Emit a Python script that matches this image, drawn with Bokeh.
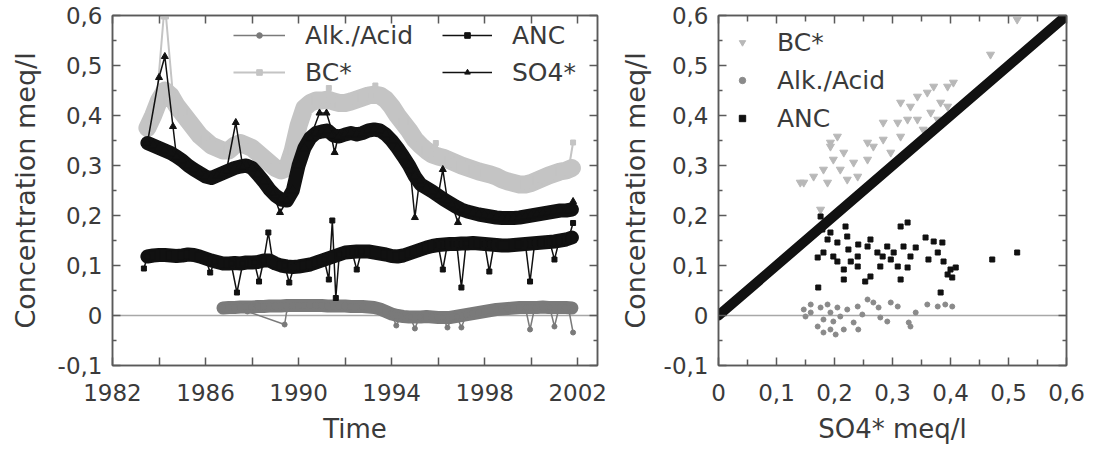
from bokeh.plotting import figure
from bokeh.models import (Range1d, LinearAxis, FixedTicker, CustomJSTickFormatter,
                          Legend, LegendItem, Span)
from bokeh.layouts import row
from bokeh.embed import file_html
from bokeh.resources import INLINE

# ---------------- data: left panel (time series) ----------------
t = [1983.50, 1983.75, 1984.00, 1984.25, 1984.50, 1984.75, 1985.00, 1985.25, 1985.50, 1985.75,
     1986.00, 1986.25, 1986.50, 1986.75, 1987.00, 1987.25, 1987.50, 1987.75, 1988.00, 1988.25,
     1988.50, 1988.75, 1989.00, 1989.25, 1989.50, 1989.75, 1990.00, 1990.25, 1990.50, 1990.75,
     1991.00, 1991.25, 1991.50, 1991.75, 1992.00, 1992.25, 1992.50, 1992.75, 1993.00, 1993.25,
     1993.50, 1993.75, 1994.00, 1994.25, 1994.50, 1994.75, 1995.00, 1995.25, 1995.50, 1995.75,
     1996.00, 1996.25, 1996.50, 1996.75, 1997.00, 1997.25, 1997.50, 1997.75, 1998.00, 1998.25,
     1998.50, 1998.75, 1999.00, 1999.25, 1999.50, 1999.75, 2000.00, 2000.25, 2000.50, 2000.75,
     2001.00, 2001.25, 2001.50, 2001.75]

so4 = [0.345, 0.340, 0.335, 0.330, 0.325, 0.318, 0.310, 0.300, 0.292, 0.285,
       0.278, 0.275, 0.280, 0.285, 0.290, 0.295, 0.298, 0.300, 0.295, 0.282,
       0.268, 0.252, 0.240, 0.232, 0.230, 0.250, 0.300, 0.335, 0.355, 0.365,
       0.368, 0.370, 0.360, 0.358, 0.362, 0.365, 0.362, 0.365, 0.370, 0.372,
       0.370, 0.362, 0.350, 0.335, 0.318, 0.300, 0.278, 0.262, 0.255, 0.248,
       0.240, 0.232, 0.225, 0.218, 0.212, 0.208, 0.205, 0.202, 0.200, 0.198,
       0.196, 0.195, 0.195, 0.195, 0.196, 0.198, 0.200, 0.202, 0.204, 0.206,
       0.208, 0.210, 0.210, 0.212]

anc = [0.118, 0.120, 0.121, 0.121, 0.120, 0.119, 0.120, 0.122, 0.121, 0.118,
       0.114, 0.110, 0.107, 0.104, 0.104, 0.105, 0.104, 0.106, 0.106, 0.107,
       0.110, 0.110, 0.104, 0.100, 0.098, 0.097, 0.098, 0.100, 0.102, 0.106,
       0.110, 0.114, 0.118, 0.122, 0.126, 0.127, 0.128, 0.128, 0.128, 0.126,
       0.124, 0.122, 0.119, 0.118, 0.120, 0.124, 0.128, 0.132, 0.136, 0.139,
       0.141, 0.142, 0.143, 0.143, 0.144, 0.144, 0.145, 0.144, 0.143, 0.142,
       0.141, 0.140, 0.140, 0.141, 0.142, 0.143, 0.144, 0.145, 0.146, 0.147,
       0.148, 0.150, 0.152, 0.156]

bc = [0.375, 0.400, 0.430, 0.450, 0.440, 0.420, 0.405, 0.390, 0.375, 0.360,
      0.350, 0.340, 0.335, 0.330, 0.330, 0.340, 0.345, 0.340, 0.335, 0.325,
      0.315, 0.305, 0.295, 0.290, 0.295, 0.330, 0.380, 0.415, 0.425, 0.430,
      0.430, 0.432, 0.428, 0.425, 0.425, 0.428, 0.432, 0.436, 0.440, 0.442,
      0.440, 0.432, 0.418, 0.400, 0.385, 0.370, 0.352, 0.340, 0.330, 0.322,
      0.318, 0.315, 0.310, 0.305, 0.300, 0.296, 0.292, 0.288, 0.285, 0.282,
      0.278, 0.272, 0.268, 0.265, 0.262, 0.262, 0.265, 0.270, 0.275, 0.280,
      0.284, 0.288, 0.290, 0.295]

alk_t = [1986.75, 1987.00, 1987.25, 1987.50, 1987.75, 1988.00, 1988.25, 1988.50, 1988.75, 1989.00,
         1989.25, 1989.50, 1989.75, 1990.00, 1990.25, 1990.50, 1990.75, 1991.00, 1991.25, 1991.50,
         1991.75, 1992.00, 1992.25, 1992.50, 1992.75, 1993.00, 1993.25, 1993.50, 1993.75, 1994.00,
         1994.25, 1994.50, 1994.75, 1995.00, 1995.25, 1995.50, 1995.75, 1996.00, 1996.25, 1996.50,
         1996.75, 1997.00, 1997.25, 1997.50, 1997.75, 1998.00, 1998.25, 1998.50, 1998.75, 1999.00,
         1999.25, 1999.50, 1999.75, 2000.00, 2000.25, 2000.50, 2000.75, 2001.00, 2001.25, 2001.50,
         2001.75]
alk = [0.015, 0.016, 0.016, 0.017, 0.017, 0.017, 0.018, 0.018, 0.019, 0.019,
       0.019, 0.020, 0.020, 0.020, 0.020, 0.020, 0.020, 0.020, 0.019, 0.019,
       0.019, 0.019, 0.018, 0.018, 0.018, 0.017, 0.016, 0.013, 0.008, 0.003,
       0.000, -0.002, -0.003, -0.003, -0.003, -0.002, -0.003, -0.004, -0.004, -0.004,
       -0.002, 0.000, 0.002, 0.004, 0.006, 0.008, 0.010, 0.012, 0.013, 0.014,
       0.015, 0.016, 0.016, 0.016, 0.016, 0.017, 0.016, 0.016, 0.016, 0.016,
       0.015]

# isolated excursions (spikes) of each series
so4_spk_t = [[1983.5, 1984.0, 1984.25, 1984.6, 1984.75], [1986.9, 1987.3, 1987.6],
             [1988.9, 1989.2, 1989.5], [1990.5, 1990.9, 1991.2, 1991.5], [1991.4, 1991.55, 1991.7],
             [1994.8, 1995.0, 1995.2], [1996.0, 1996.2, 1996.4], [1996.6, 1996.85, 1997.0],
             [2001.6, 2001.8]]
so4_spk_v = [[0.345, 0.476, 0.518, 0.378, 0.318], [0.290, 0.386, 0.298],
             [0.245, 0.206, 0.230], [0.355, 0.405, 0.405, 0.360], [0.360, 0.326, 0.358],
             [0.290, 0.196, 0.270], [0.240, 0.292, 0.230], [0.222, 0.186, 0.212],
             [0.210, 0.228]]

anc_spk_t = [[1983.35, 1983.5], [1986.0, 1986.2, 1986.4], [1987.1, 1987.35, 1987.6],
             [1988.1, 1988.3, 1988.5], [1988.5, 1988.7, 1988.9], [1989.4, 1989.6, 1989.8],
             [1991.1, 1991.3, 1991.45, 1991.6, 1991.75], [1992.3, 1992.5, 1992.7],
             [1996.0, 1996.2, 1996.4], [1996.8, 1997.0, 1997.2], [1998.0, 1998.2, 1998.4],
             [1999.75, 1999.95, 2000.15], [2000.8, 2001.0, 2001.2], [2001.6, 2001.8]]
anc_spk_v = [[0.094, 0.118], [0.114, 0.086, 0.108], [0.104, 0.046, 0.104],
             [0.106, 0.068, 0.110], [0.110, 0.166, 0.105], [0.100, 0.066, 0.097],
             [0.112, 0.072, 0.190, 0.035, 0.122], [0.127, 0.092, 0.128],
             [0.141, 0.092, 0.143], [0.143, 0.056, 0.144], [0.143, 0.088, 0.141],
             [0.143, 0.068, 0.145], [0.147, 0.112, 0.149], [0.153, 0.185]]

bc_spk_t = [[1983.9, 1984.2, 1984.3, 1984.6], [1991.1, 1991.3, 1991.5],
            [1993.1, 1993.3, 1993.5], [1995.7, 1995.9, 1996.1], [2001.6, 2001.8]]
bc_spk_v = [[0.430, 0.598, 0.598, 0.440], [0.430, 0.455, 0.430],
            [0.440, 0.460, 0.440], [0.322, 0.345, 0.318], [0.290, 0.346]]

alk_spk_t = [[1987.8, 1989.4, 1989.5], [1994.0, 1994.2, 1994.4], [1994.8, 1995.0, 1995.2],
             [1996.2, 1996.4, 1996.6], [1996.8, 1997.0, 1997.2], [1999.75, 1999.95, 2000.15],
             [2000.8, 2001.0, 2001.2], [2001.6, 2001.8]]
alk_spk_v = [[0.008, -0.018, 0.012], [0.003, -0.020, -0.002], [-0.003, -0.026, -0.003],
             [-0.004, -0.024, -0.004], [-0.002, -0.024, 0.001], [0.016, -0.028, 0.016],
             [0.016, -0.022, 0.016], [0.016, -0.034]]

# ---------------- data: right panel (scatter vs SO4*) ----------------
one_to_one_x = [0.0, 0.6]
one_to_one_y = [0.0, 0.6]

bc_sx = [0.141, 0.147, 0.164, 0.181, 0.198, 0.193, 0.216, 0.210, 0.233, 0.188, 0.222, 0.240,
         0.257, 0.267, 0.284, 0.297, 0.314, 0.309, 0.326, 0.314, 0.331, 0.343, 0.360, 0.371,
         0.395, 0.405, 0.383, 0.366, 0.343, 0.353, 0.378, 0.395, 0.469, 0.284, 0.257, 0.205,
         0.193, 0.515, 0.176]
bc_sy = [0.266, 0.266, 0.278, 0.292, 0.312, 0.338, 0.326, 0.292, 0.306, 0.266, 0.272, 0.278,
         0.312, 0.338, 0.352, 0.326, 0.358, 0.386, 0.392, 0.426, 0.418, 0.438, 0.446, 0.458,
         0.458, 0.466, 0.426, 0.406, 0.392, 0.372, 0.392, 0.418, 0.522, 0.386, 0.346, 0.358,
         0.346, 0.592, 0.212]

alk_sx = [0.147, 0.159, 0.150, 0.176, 0.188, 0.193, 0.181, 0.198, 0.193, 0.202, 0.216, 0.210,
          0.222, 0.240, 0.257, 0.248, 0.233, 0.241, 0.171, 0.276, 0.279, 0.291, 0.309, 0.328,
          0.340, 0.331, 0.360, 0.378, 0.391, 0.403, 0.159, 0.205, 0.181, 0.267, 0.297]
alk_sy = [0.012, 0.022, -0.002, 0.016, 0.022, 0.006, -0.008, -0.012, -0.028, -0.038, -0.028, -0.002,
          0.012, 0.018, 0.032, 0.002, -0.014, -0.028, -0.022, 0.016, -0.004, -0.012, 0.018, -0.014,
          0.006, -0.022, 0.022, 0.018, 0.022, 0.018, 0.006, 0.016, -0.034, 0.026, 0.026]

anc_sx = [0.314, 0.326, 0.219, 0.188, 0.205, 0.181, 0.198, 0.171, 0.224, 0.240, 0.262, 0.257,
          0.291, 0.283, 0.297, 0.319, 0.340, 0.331, 0.309, 0.326, 0.279, 0.262, 0.253, 0.216,
          0.216, 0.314, 0.357, 0.371, 0.386, 0.362, 0.378, 0.388, 0.400, 0.409, 0.395, 0.403,
          0.172, 0.383, 0.472, 0.515, 0.193, 0.179, 0.222, 0.241, 0.274, 0.302, 0.240, 0.205,
          0.228, 0.176]
anc_sy = [0.178, 0.186, 0.178, 0.152, 0.146, 0.126, 0.118, 0.116, 0.132, 0.118, 0.152, 0.138,
          0.138, 0.118, 0.112, 0.138, 0.136, 0.118, 0.098, 0.096, 0.098, 0.078, 0.068, 0.092,
          0.072, 0.072, 0.156, 0.148, 0.146, 0.112, 0.126, 0.108, 0.092, 0.096, 0.082, 0.076,
          0.056, 0.046, 0.112, 0.126, 0.166, 0.172, 0.158, 0.142, 0.126, 0.126, 0.098, 0.108,
          0.108, 0.198]

# ---------------- axis ticks ----------------
year_ticks = [1982, 1986, 1990, 1994, 1998, 2002]
year_minor = [1984, 1988, 1992, 1996, 2000]
conc_ticks = [-0.1, 0.0, 0.1, 0.2, 0.3, 0.4, 0.5, 0.6]
conc_minor = [-0.05, 0.05, 0.15, 0.25, 0.35, 0.45, 0.55]
so4_ticks = [0.0, 0.1, 0.2, 0.3, 0.4, 0.5, 0.6]
so4_minor = [0.05, 0.15, 0.25, 0.35, 0.45, 0.55]

# ---------------- styling ----------------
FONT = "DejaVu Sans"
TXT = "#3a3a3a"
AXC = "#5a5a5a"
C_BC = "#c4c4c4"
C_ALK = "#7a7a7a"
C_BLK = "#111111"

comma_fmt = CustomJSTickFormatter(code="""
    if (Math.abs(tick) < 1e-9) { return "0"; }
    return tick.toFixed(1).replace(".", ",");
""")
int_fmt = CustomJSTickFormatter(code="return tick.toFixed(0);")
blank_fmt = CustomJSTickFormatter(code="return '';")


def style_axis(ax, major, minor, fmt, minor_len=4, standoff=10):
    ax.ticker = FixedTicker(ticks=major, minor_ticks=minor)
    ax.formatter = fmt
    ax.major_tick_in = 8
    ax.major_tick_out = 0
    ax.minor_tick_in = minor_len
    ax.minor_tick_out = 0
    ax.axis_line_color = AXC
    ax.axis_line_width = 1.5
    ax.major_tick_line_color = AXC
    ax.major_tick_line_width = 1.5
    ax.minor_tick_line_color = AXC
    ax.minor_tick_line_width = 1.5
    ax.major_label_text_font = FONT
    ax.major_label_text_font_size = "23px"
    ax.major_label_text_color = TXT
    ax.major_label_standoff = standoff
    ax.axis_label_text_font = FONT
    ax.axis_label_text_font_style = "normal"
    ax.axis_label_text_color = TXT


def mirror_axis(p, side, major, minor, minor_len):
    ax = LinearAxis()
    style_axis(ax, major, minor, blank_fmt, minor_len=minor_len, standoff=0)
    ax.major_label_text_font_size = "1px"
    p.add_layout(ax, side)


def make_fig(width, x_range, border_left, border_right):
    p = figure(width=width, height=451, x_range=x_range, y_range=Range1d(-0.1, 0.6),
               output_backend="svg", toolbar_location=None,
               min_border_left=border_left, min_border_right=border_right,
               min_border_top=15, min_border_bottom=86)
    p.xgrid.visible = False
    p.ygrid.visible = False
    p.outline_line_color = AXC
    p.outline_line_width = 1.5
    p.background_fill_color = "white"
    p.border_fill_color = "white"
    return p


# ================= left panel =================
p1 = make_fig(612, Range1d(1982, 2002.85), 112, 15)
style_axis(p1.xaxis[0], year_ticks, year_minor, int_fmt, minor_len=8, standoff=18)
style_axis(p1.yaxis[0], conc_ticks, conc_minor, comma_fmt, standoff=10)
p1.xaxis[0].axis_label = "Time"
p1.xaxis[0].axis_label_text_font_size = "26px"
p1.xaxis[0].axis_label_standoff = 10
p1.yaxis[0].axis_label = "Concentration meq/l"
p1.yaxis[0].axis_label_text_font_size = "27px"
p1.yaxis[0].axis_label_standoff = 14
mirror_axis(p1, "above", year_ticks, year_minor, 8)
mirror_axis(p1, "right", conc_ticks, conc_minor, 4)

p1.add_layout(Span(location=0, dimension="width", line_color="#a8a8a8", line_width=1.5,
                   level="underlay"))

# BC*
p1.line(t, bc, line_color=C_BC, line_width=18, line_join="round", line_cap="round")
bc_thin = p1.multi_line(bc_spk_t, bc_spk_v, line_color=C_BC, line_width=2)
p1.scatter(t, bc, marker="square", size=9, color=C_BC)
bc_pts = p1.scatter(sum(bc_spk_t, []), sum(bc_spk_v, []), marker="square", size=5, color=C_BC)

# Alk./Acid
p1.line(alk_t, alk, line_color=C_ALK, line_width=13, line_join="round", line_cap="round")
alk_thin = p1.multi_line(alk_spk_t, alk_spk_v, line_color=C_ALK, line_width=1.5)
p1.scatter(alk_t, alk, marker="circle", size=7, color=C_ALK)
alk_pts = p1.scatter(sum(alk_spk_t, []), sum(alk_spk_v, []), marker="circle", size=5, color=C_ALK)

# ANC
p1.line(t, anc, line_color=C_BLK, line_width=14, line_join="round", line_cap="round")
anc_thin = p1.multi_line(anc_spk_t, anc_spk_v, line_color=C_BLK, line_width=1.5)
p1.scatter(t, anc, marker="square", size=9, color=C_BLK)
anc_pts = p1.scatter(sum(anc_spk_t, []), sum(anc_spk_v, []), marker="square", size=5, color=C_BLK)

# SO4*
p1.line(t, so4, line_color=C_BLK, line_width=14, line_join="round", line_cap="round")
so4_thin = p1.multi_line(so4_spk_t, so4_spk_v, line_color=C_BLK, line_width=1.5)
p1.scatter(t, so4, marker="triangle", size=10, color=C_BLK)
so4_pts = p1.scatter(sum(so4_spk_t, []), sum(so4_spk_v, []), marker="triangle", size=7, color=C_BLK)


def legend_box(items, loc, glyph_w, standoff, spacing, glyph_h):
    lg = Legend(items=items, location=loc, orientation="vertical")
    lg.label_text_font = FONT
    lg.label_text_font_size = "25px"
    lg.label_text_color = TXT
    lg.glyph_width = glyph_w
    lg.glyph_height = glyph_h
    lg.label_height = 30
    lg.label_standoff = standoff
    lg.spacing = spacing
    lg.padding = 0
    lg.margin = 0
    lg.border_line_color = None
    lg.background_fill_alpha = 0
    return lg


leg1a = legend_box([LegendItem(label="Alk./Acid", renderers=[alk_thin, alk_pts]),
                    LegendItem(label="BC*", renderers=[bc_thin, bc_pts])],
                   (121, 278), 52, 20, 7, 14)
leg1b = legend_box([LegendItem(label="ANC", renderers=[anc_thin, anc_pts]),
                    LegendItem(label="SO4*", renderers=[so4_thin, so4_pts])],
                   (330, 278), 50, 20, 7, 14)
p1.add_layout(leg1a)
p1.add_layout(leg1b)

# ================= right panel =================
p2 = make_fig(485, Range1d(0, 0.6), 106, 31)
style_axis(p2.xaxis[0], so4_ticks, so4_minor, comma_fmt, minor_len=6, standoff=18)
style_axis(p2.yaxis[0], conc_ticks, conc_minor, comma_fmt, standoff=10)
p2.xaxis[0].axis_label = "SO4* meq/l"
p2.xaxis[0].axis_label_text_font_size = "26px"
p2.xaxis[0].axis_label_standoff = 10
p2.yaxis[0].axis_label = "Concentration meq/l"
p2.yaxis[0].axis_label_text_font_size = "27px"
p2.yaxis[0].axis_label_standoff = 10
mirror_axis(p2, "above", so4_ticks, so4_minor, 6)
mirror_axis(p2, "right", conc_ticks, conc_minor, 4)

p2.add_layout(Span(location=0, dimension="width", line_color="#a8a8a8", line_width=1.5,
                   level="underlay"))

r_bc = p2.scatter(bc_sx, bc_sy, marker="inverted_triangle", size=8, color="#b8b8b8")
r_alk = p2.scatter(alk_sx, alk_sy, marker="circle", size=5, color="#8a8a8a")
r_anc = p2.scatter(anc_sx, anc_sy, marker="square", size=5, color=C_BLK)
p2.line(one_to_one_x, one_to_one_y, line_color=C_BLK, line_width=10, line_cap="round")

leg2 = legend_box([LegendItem(label="BC*", renderers=[r_bc]),
                   LegendItem(label="Alk./Acid", renderers=[r_alk]),
                   LegendItem(label="ANC", renderers=[r_anc])],
                  (14, 232), 20, 25, 8, 16)
p2.add_layout(leg2)

layout = row(p1, p2)
open("out.html", "w").write(file_html(layout, INLINE))
